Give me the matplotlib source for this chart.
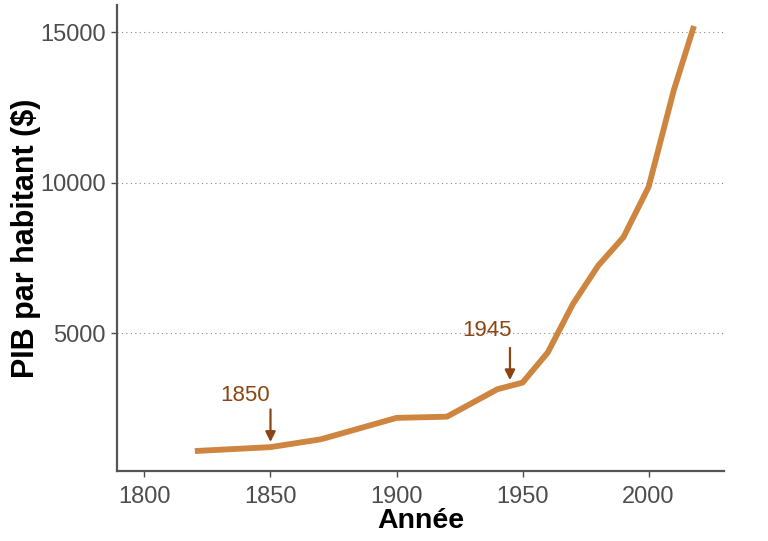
import numpy as np
import matplotlib
matplotlib.use('Agg')
from matplotlib import pyplot as plt

plt.rcParams['font.family'] = ['Liberation Sans', 'DejaVu Sans']

# PIB par habitant
annees = [1820, 1850, 1870, 1900, 1920, 1940, 1950, 1960, 1970, 1980, 1990, 2000, 2010, 2018]
pib = [1100, 1230, 1490, 2200, 2240, 3150, 3370, 4370, 5980, 7250, 8190, 9860, 13070, 15200]

# annotations : (annee, texte x, texte y, debut fleche, fin fleche)
notes_annee = [1850, 1945]
notes_texte_x = [1840, 1936]
notes_texte_y = [2950, 5100]
fleche_debut = [2480, 4520]
fleche_fin = [1400, 3450]

ligne_col = '#CD853F'
note_col = '#8B4513'
gris = '#4D4D4D'

fig = plt.figure(figsize=(7.68, 5.41), dpi=100)
ax = fig.add_axes([0.152, 0.129, 0.791, 0.862])
ax.plot(annees, pib, color=ligne_col, linewidth=4.2, solid_capstyle='butt', zorder=3)

for a, tx, ty, d, f in zip(notes_annee, notes_texte_x, notes_texte_y, fleche_debut, fleche_fin):
    ax.text(tx, ty, str(a), color=note_col, fontsize=16, ha='center', va='center')
    ax.annotate('', xy=(a, f), xytext=(a, d),
                arrowprops=dict(arrowstyle='-|>,head_length=0.6,head_width=0.3',
                                color=note_col, lw=1.6, shrinkA=0, shrinkB=0))

ax.set_xlim(1789, 2030)
ax.set_ylim(431, 15900)
ax.set_xticks([1800, 1850, 1900, 1950, 2000])
ax.set_yticks([5000, 10000, 15000])
ax.yaxis.grid(True, linestyle=(0, (1, 3)), color='#888888', linewidth=0.8)
ax.set_axisbelow(True)

for s in ['top', 'right']:
    ax.spines[s].set_visible(False)
for s in ['left', 'bottom']:
    ax.spines[s].set_color('#555555')
    ax.spines[s].set_linewidth(1.6)

ax.tick_params(colors=gris, labelsize=17, length=4, width=1.0)
ax.tick_params(axis='x', pad=7)
ax.tick_params(axis='y', pad=4)
ax.set_xlabel('Année', fontsize=20.5, fontweight='bold', labelpad=0)
ax.set_ylabel('PIB par habitant ($)', fontsize=22, fontweight='bold', labelpad=-1)

fig.savefig('out.png', dpi=100)
